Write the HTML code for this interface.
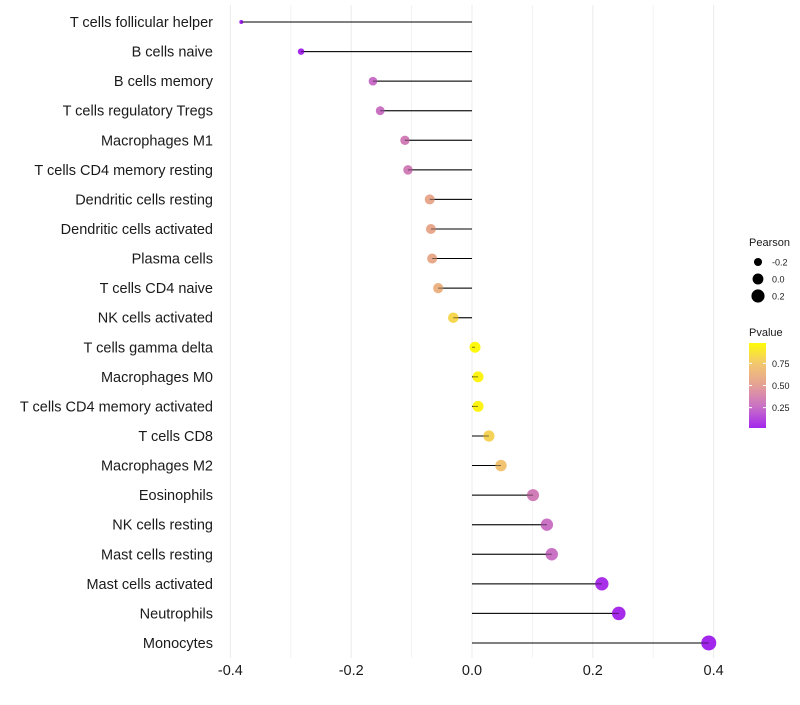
<!DOCTYPE html>
<html><head><meta charset="utf-8"><style>
body{margin:0;background:#fff;}
svg text{font-family:"Liberation Sans",sans-serif;}
</style></head><body>
<svg id="chart" width="800" height="700"></svg>
<script>
const categories=["T cells follicular helper","B cells naive","B cells memory","T cells regulatory  Tregs","Macrophages M1","T cells CD4 memory resting","Dendritic cells resting","Dendritic cells activated","Plasma cells","T cells CD4 naive","NK cells activated","T cells gamma delta","Macrophages M0","T cells CD4 memory activated","T cells CD8","Macrophages M2","Eosinophils","NK cells resting","Mast cells resting","Mast cells activated","Neutrophils","Monocytes"];
const pearson=[-0.382,-0.283,-0.164,-0.152,-0.111,-0.106,-0.070,-0.068,-0.066,-0.056,-0.031,0.005,0.010,0.010,0.028,0.048,0.101,0.124,0.132,0.215,0.243,0.392];
const pvalue=[0.01,0.03,0.25,0.27,0.33,0.33,0.55,0.55,0.56,0.62,0.82,0.97,0.95,0.95,0.8,0.72,0.33,0.27,0.27,0.05,0.04,0.02];
const xTicks=[-0.4,-0.2,0.0,0.2,0.4];
const xMinor=[-0.3,-0.1,0.1,0.3];
const sizeLegend=[-0.2,0.0,0.2];
const pTicks=[0.25,0.5,0.75];

const NS="http://www.w3.org/2000/svg";
const svg=document.getElementById('chart');
function el(t,a,p){const e=document.createElementNS(NS,t);for(const k in a)e.setAttribute(k,a[k]);(p||svg).appendChild(e);return e;}
const x=v=>472+v*604;
const y=i=>22+i*29.57;
const r=p=>Math.sqrt(Math.max(3,4+67.5*(p+0.38)));
const stops=[[0,[160,32,240]],[0.25,[200,110,200]],[0.5,[228,160,150]],[0.75,[243,200,110]],[1,[255,255,0]]];
function col(p){const t=Math.max(0,Math.min(1,p));let k=0;while(k<stops.length-2&&t>stops[k+1][0])k++;
const [t0,a]=stops[k],[t1,b]=stops[k+1];const f=(t-t0)/(t1-t0);
return `rgb(${a.map((v,i)=>Math.round(v+(b[i]-v)*f)).join(',')})`;}

xMinor.forEach(v=>{const l=el('line',{x1:x(v),x2:x(v),y1:5,y2:658,stroke:'#f2f2f2','stroke-width':1});

});
xTicks.forEach(v=>{const l=el('line',{x1:x(v),x2:x(v),y1:5,y2:658,stroke:'#ebebeb','stroke-width':1});


const t=el('text',{x:x(v),y:675,'text-anchor':'middle','font-size':14.5,fill:'#1a1a1a'});t.textContent=v.toFixed(1);

});

categories.forEach((c,i)=>{
const t=el('text',{x:213,y:y(i)+5,'text-anchor':'end','font-size':14.5,fill:'#1a1a1a'});t.textContent=c;


const s=el('line',{x1:x(0),x2:x(pearson[i]),y1:y(i),y2:y(i),stroke:'#000','stroke-width':1});


const d=el('circle',{cx:x(pearson[i]),cy:y(i),r:r(pearson[i]),fill:col(pvalue[i])});


el('line',{x1:x(0),x2:x(pearson[i]),y1:y(i),y2:y(i),stroke:'#000','stroke-width':1,'stroke-opacity':0.5});
});

const lt=el('text',{x:749,y:246,'font-size':11,fill:'#1a1a1a'});lt.textContent='Pearson';


sizeLegend.forEach((v,i)=>{const cy=262+i*17;
const c=el('circle',{cx:758,cy:cy,r:r(v),fill:'#000'});


const t=el('text',{x:772,y:cy+3.5,'font-size':9,fill:'#1a1a1a'});t.textContent=v.toFixed(1);

});

const ct=el('text',{x:749,y:336,'font-size':11,fill:'#1a1a1a'});ct.textContent='Pvalue';


const defs=el('defs',{});const g=el('linearGradient',{id:'pg',x1:0,y1:1,x2:0,y2:0},defs);
for(let k=0;k<=20;k++)el('stop',{offset:k/20,'stop-color':col(0.02+k*0.048)},g);
const bar=el('rect',{x:749,y:343,width:17,height:85,fill:'url(#pg)'});


const py=p=>428-(p-0.02)/0.96*85;
pTicks.forEach(p=>{el('line',{x1:749,x2:752,y1:py(p),y2:py(p),stroke:'#fff'});el('line',{x1:763,x2:766,y1:py(p),y2:py(p),stroke:'#fff'});
const t=el('text',{x:772,y:py(p)+3.5,'font-size':9,fill:'#1a1a1a'});t.textContent=p.toFixed(2);

});
</script>
</body></html>
